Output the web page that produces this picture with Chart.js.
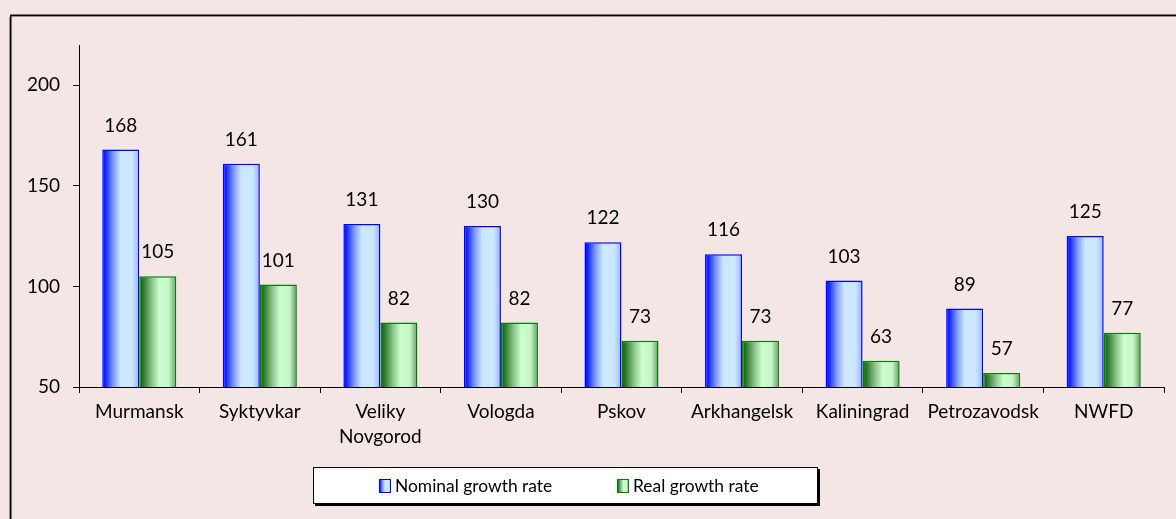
<!DOCTYPE html>
<html>
<head>
<meta charset="utf-8">
<script src="https://cdn.jsdelivr.net/npm/chart.js@4.4.1/dist/chart.umd.min.js"></script>
<style>
  html, body { margin: 0; padding: 0; background: #F5E6E6; }
  #wrap { width: 1176px; height: 519px; position: relative; }
  canvas { display: block; }
</style>
</head>
<body>
<div id="wrap"><canvas id="c" width="1176" height="519"></canvas></div>
<script>
// ---- data ----
const categories = ['Murmansk', 'Syktyvkar', ['Veliky', 'Novgorod'], 'Vologda', 'Pskov', 'Arkhangelsk', 'Kaliningrad', 'Petrozavodsk', 'NWFD'];
const nominalGrowth = [168, 161, 131, 130, 122, 116, 103, 89, 125];
const realGrowth = [105, 101, 82, 82, 73, 73, 63, 57, 77];
const seriesNames = ['Nominal growth rate', 'Real growth rate'];
const yTickValues = [50, 100, 150, 200];

// ---- styles ----
const FONT = 'Lato';
const FS = 19;
const LEGEND_FS = 17.4;
const CAT_PCT = 0.614;
const blueStops = [[0, '#0000ff'], [0.1, '#1a2cff'], [0.3, '#7f9cff'], [0.5, '#cce8ff'], [0.8, '#cce8ff'], [1, '#94b4ff']];
const greenStops = [[0, '#005f00'], [0.12, '#2e7d2e'], [0.35, '#8fc98f'], [0.55, '#ccffcc'], [0.8, '#c6f4c6'], [1, '#5f9c5f']];
const stopsFor = [blueStops, greenStops];
const borderFor = ['#0000ff', '#008000'];

function makeGrad(ctx, left, right, stops) {
  const g = ctx.createLinearGradient(left, 0, right, 0);
  stops.forEach(([o, c]) => g.addColorStop(o, c));
  return g;
}

function barFill(c) {
  const chart = c.chart;
  const xs = chart.scales.x;
  const stops = stopsFor[c.datasetIndex];
  if (!chart.chartArea || !xs || c.dataIndex === undefined || !isFinite(xs.width)) return stops[3][1];
  const cw = xs.width / categories.length;
  const group = cw * CAT_PCT;
  const bw = group / 2;
  const center = xs.getPixelForValue(c.dataIndex);
  const left = center - group / 2 + c.datasetIndex * bw;
  return makeGrad(chart.ctx, left, left + bw, stops);
}

const framePlugin = {
  id: 'frame',
  beforeDraw(chart) {
    const ctx = chart.ctx;
    ctx.save();
    ctx.fillStyle = '#F5E6E6';
    ctx.fillRect(0, 0, chart.width, chart.height);
    ctx.strokeStyle = '#9a9090';
    ctx.lineWidth = 1;
    ctx.beginPath();
    ctx.moveTo(9.5, 17); ctx.lineTo(9.5, chart.height);
    ctx.moveTo(11, 16.5); ctx.lineTo(chart.width, 16.5);
    ctx.stroke();
    ctx.strokeStyle = '#000';
    ctx.lineWidth = 1.5;
    ctx.beginPath();
    ctx.moveTo(10.75, 15.25); ctx.lineTo(10.75, chart.height);
    ctx.moveTo(10, 15.25); ctx.lineTo(chart.width, 15.25);
    ctx.stroke();
    ctx.restore();
  }
};

const valueLabelPlugin = {
  id: 'valueLabels',
  afterDatasetsDraw(chart) {
    const ctx = chart.ctx;
    ctx.save();
    ctx.font = FS + 'px ' + FONT;
    ctx.fillStyle = '#000';
    ctx.textAlign = 'center';
    ctx.textBaseline = 'middle';
    chart.data.datasets.forEach((ds, di) => {
      const meta = chart.getDatasetMeta(di);
      meta.data.forEach((el, i) => {
        ctx.fillText(String(ds.data[i]), el.x, el.y - 24);
      });
    });
    ctx.restore();
  }
};

const legendBoxPlugin = {
  id: 'legendBox',
  afterDraw(chart) {
    const ctx = chart.ctx;
    const box = { x: 313, y: 467, w: 504, h: 36 };
    ctx.save();
    ctx.fillStyle = '#000';
    ctx.fillRect(box.x + 2, box.y + 2, box.w + 1, box.h + 1);
    ctx.fillStyle = '#fff';
    ctx.fillRect(box.x, box.y, box.w, box.h);
    ctx.strokeStyle = '#000';
    ctx.lineWidth = 1;
    ctx.strokeRect(box.x + 0.5, box.y + 0.5, box.w, box.h);
    const itemX = [379, 617];
    ctx.font = LEGEND_FS + 'px ' + FONT;
    ctx.textBaseline = 'middle';
    ctx.textAlign = 'left';
    chart.data.datasets.forEach((ds, di) => {
      const x = itemX[di];
      ctx.fillStyle = makeGrad(ctx, x, x + 12, stopsFor[di]);
      ctx.fillRect(x, 479, 12, 14);
      ctx.strokeStyle = borderFor[di];
      ctx.strokeRect(x + 0.5, 479.5, 11, 13);
      ctx.fillStyle = '#000';
      ctx.fillText(ds.label, x + 16, 486);
    });
    ctx.restore();
  }
};

new Chart(document.getElementById('c'), {
  type: 'bar',
  data: {
    labels: categories,
    datasets: [
      { label: seriesNames[0], data: nominalGrowth, backgroundColor: barFill, borderColor: borderFor[0], borderWidth: 1.5 },
      { label: seriesNames[1], data: realGrowth, backgroundColor: barFill, borderColor: borderFor[1], borderWidth: 1.5 }
    ]
  },
  options: {
    responsive: false,
    animation: false,
    events: [],
    layout: { padding: { top: 45, left: 10, right: 12, bottom: 0 } },
    datasets: { bar: { categoryPercentage: CAT_PCT, barPercentage: 1 } },
    plugins: { legend: { display: false }, tooltip: { enabled: false } },
    scales: {
      x: {
        grid: { display: true, drawOnChartArea: false, drawTicks: true, tickLength: 6, color: '#000', offset: true },
        border: { display: true, color: '#000', width: 1 },
        ticks: { font: { family: FONT, size: FS, lineHeight: 1.32 }, color: '#000', padding: 6, maxRotation: 0, autoSkip: false },
        afterFit(scale) { scale.height = 132; }
      },
      y: {
        min: 50,
        max: 220,
        grid: { display: true, drawOnChartArea: false, drawTicks: true, tickLength: 6, color: '#000' },
        border: { display: true, color: '#000', width: 1 },
        ticks: { stepSize: 50, font: { family: FONT, size: FS }, color: '#000', padding: 13 },
        afterBuildTicks(scale) { scale.ticks = yTickValues.map(v => ({ value: v })); },
        afterFit(scale) { scale.width = 69; }
      }
    }
  },
  plugins: [framePlugin, valueLabelPlugin, legendBoxPlugin]
});
</script>
</body>
</html>
